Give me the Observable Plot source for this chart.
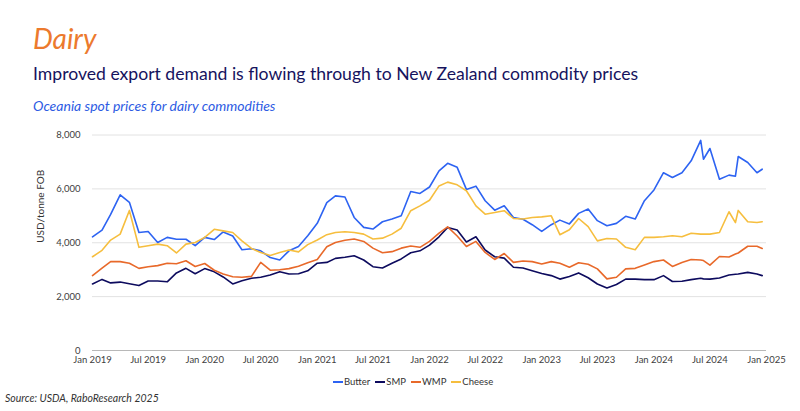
<!DOCTYPE html>
<html>
<head>
<meta charset="utf-8">
<script src="https://cdn.jsdelivr.net/npm/d3@7"></script>
<script src="https://cdn.jsdelivr.net/npm/@observablehq/plot@0.6"></script>
<style>
  html, body { margin: 0; padding: 0; background: #fff; }
  #wrap { position: relative; width: 800px; height: 411px; font-family: Lato, "Open Sans", sans-serif; overflow: hidden; }
  .abs { position: absolute; white-space: nowrap; line-height: 1; }
  #legend { display: flex; align-items: center; font-size: 9.5px; color: #333; }
  #legend .item { display: flex; align-items: center; margin-right: 5px; }
  #legend .sw { display: inline-block; width: 10px; height: 1.6px; margin-right: 1px; }
</style>
</head>
<body>
<div id="wrap">
  <div class="abs" style="left:33px;top:24px;font-size:28px;font-style:italic;color:#ec7a2d;">Dairy</div>
  <div class="abs" id="subtitle" style="left:33px;top:64.5px;font-size:17.6px;color:#16135e;">Improved export demand is flowing through to New Zealand commodity prices</div>
  <div class="abs" style="left:33px;top:99px;font-size:14px;font-style:italic;color:#2d5be3;">Oceania spot prices for dairy commodities</div>
  <div id="chart" style="position:absolute;left:0;top:120px;"></div>
  <div class="abs" id="legend" style="left:333px;top:377px;"></div>
  <div class="abs" style="left:5px;top:393px;font-size:10.5px;font-style:italic;color:#333;">Source: USDA, RaboResearch 2025</div>
</div>
<script>
// Observation dates (monthly, with a few extra mid-month readings)
const dates = [
  "2019-01-01","2019-02-01","2019-03-01","2019-04-01","2019-05-01","2019-06-01","2019-07-01","2019-08-01","2019-09-01","2019-10-01","2019-11-01","2019-12-01",
  "2020-01-01","2020-02-01","2020-03-01","2020-04-01","2020-05-01","2020-06-01","2020-07-01","2020-08-01","2020-09-01","2020-10-01","2020-11-01","2020-12-01",
  "2021-01-01","2021-02-01","2021-03-01","2021-04-01","2021-05-01","2021-06-01","2021-07-01","2021-08-01","2021-09-01","2021-10-01","2021-11-01","2021-12-01",
  "2022-01-01","2022-02-01","2022-03-01","2022-04-01","2022-05-01","2022-06-01","2022-07-01","2022-08-01","2022-09-01","2022-10-01","2022-11-01","2022-12-01",
  "2023-01-01","2023-02-01","2023-03-01","2023-04-01","2023-05-01","2023-06-01","2023-07-01","2023-08-01","2023-09-01","2023-10-01","2023-11-01","2023-12-01",
  "2024-01-01","2024-02-01","2024-03-01","2024-04-01","2024-05-01","2024-06-01","2024-06-10","2024-07-01","2024-08-01","2024-09-01","2024-09-22","2024-10-01","2024-11-01","2024-12-01","2024-12-18"
];

const butter = [
  4220,4470,5050,5780,5500,4380,4420,4010,4200,4130,4130,3890,
  4200,4120,4400,4250,3740,3780,3700,3450,3360,3700,3860,4260,
  4720,5490,5740,5700,4940,4570,4510,4780,4880,5000,5900,5830,
  6070,6670,6950,6800,5980,6100,5560,5210,5370,4940,4870,4670,
  4420,4670,4840,4700,5090,5250,4820,4630,4720,4980,4880,5560,
  5960,6600,6420,6600,7040,7800,7100,7500,6360,6510,6470,7200,6980,6600,6730
];
const smp = [
  2470,2640,2510,2540,2480,2410,2580,2580,2550,2880,3050,2850,
  3040,2920,2730,2470,2590,2680,2720,2800,2920,2840,2850,2960,
  3240,3270,3420,3460,3520,3360,3110,3060,3240,3400,3630,3700,
  3910,4220,4570,4470,4030,4220,3730,3480,3430,3090,3060,2960,
  2860,2780,2650,2750,2880,2700,2470,2320,2450,2650,2650,2630,
  2630,2780,2560,2570,2630,2680,2660,2650,2690,2800,2830,2840,2900,2840,2780
];
const wmp = [
  2780,3060,3300,3300,3240,3050,3110,3150,3240,3220,3330,3120,
  3230,2980,2840,2740,2720,2750,3270,2980,3000,3040,3130,3260,
  3380,3850,4010,4090,4140,4050,3800,3630,3670,3800,3880,3830,
  4050,4360,4590,4250,3860,4050,3640,3380,3600,3270,3320,3300,
  3210,3300,3240,3090,3260,3200,3030,2660,2720,3030,3050,3170,
  3300,3360,3120,3270,3380,3360,3340,3170,3490,3470,3580,3620,3870,3870,3790
];
const cheese = [
  3480,3720,4100,4320,5200,3830,3890,3950,3890,3620,3950,4010,
  4200,4500,4440,4380,4070,3790,3640,3530,3640,3730,3660,3930,
  4100,4300,4380,4410,4380,4320,4140,4170,4320,4540,5190,5370,
  5580,6110,6250,6150,5930,5370,5060,5120,5190,4900,4880,4940,
  4960,5000,4300,4480,4900,4600,4070,4160,4140,3830,3740,4200,
  4200,4220,4260,4220,4350,4320,4320,4320,4380,5150,4750,5200,4780,4750,4780
];

const seriesNames = ["Butter", "SMP", "WMP", "Cheese"];
const seriesColors = ["#2d63f2", "#0d0b5e", "#e8692a", "#f6be3e"];
const seriesValues = [butter, smp, wmp, cheese];

const yTicks = [0, 2000, 4000, 6000, 8000];
const xTickDates = ["2019-01-01","2019-07-01","2020-01-01","2020-07-01","2021-01-01","2021-07-01","2022-01-01","2022-07-01","2023-01-01","2023-07-01","2024-01-01","2024-07-01","2025-01-01"];
const yLabel = "USD/tonne FOB";

const data = [];
seriesNames.forEach((name, k) => {
  dates.forEach((d, i) => data.push({date: new Date(d), value: seriesValues[k][i], series: name}));
});

const chart = Plot.plot({
  width: 800,
  height: 250,
  marginTop: 14.5,
  marginBottom: 20,
  marginLeft: 92,
  marginRight: 34,
  style: {fontFamily: "Lato, 'Open Sans', sans-serif", fontSize: "9.5px", color: "#404040", background: "transparent"},
  x: {type: "utc", domain: [new Date("2019-01-01"), new Date("2025-01-01")]},
  y: {domain: [0, 8000]},
  color: {domain: seriesNames, range: seriesColors},
  marks: [
    Plot.gridY(yTicks, {stroke: "#e2e2e2", strokeOpacity: 1}),
    Plot.ruleY([0], {stroke: "#b8b8b8", strokeWidth: 1.2}),
    Plot.axisY(yTicks, {tickSize: 0, tickPadding: 12, tickFormat: d3.format(","), label: null}),
    Plot.axisX(xTickDates.map(d => new Date(d)), {tickSize: 0, tickPadding: 6, tickFormat: d3.utcFormat("%b %Y"), label: null}),
    Plot.line(data, {x: "date", y: "value", z: "series", stroke: "series", strokeWidth: 1.6, strokeLinejoin: "round"}),
    Plot.text([yLabel], {frameAnchor: "left", dx: -52, rotate: -90, fontSize: 10, fill: "#333"})
  ]
});
document.getElementById("chart").appendChild(chart);

const legend = document.getElementById("legend");
seriesNames.forEach((name, k) => {
  const item = document.createElement("span");
  item.className = "item";
  const sw = document.createElement("span");
  sw.className = "sw";
  sw.style.background = seriesColors[k];
  item.appendChild(sw);
  item.appendChild(document.createTextNode(name));
  legend.appendChild(item);
});
</script>
</body>
</html>
